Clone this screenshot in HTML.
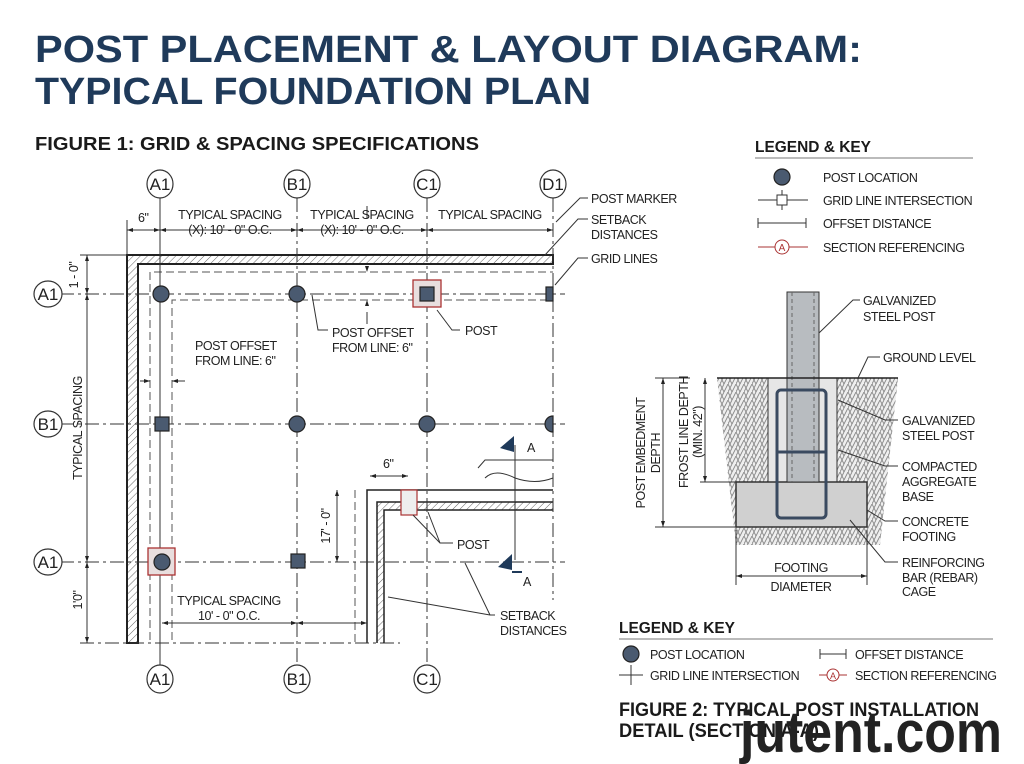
<!DOCTYPE html>
<html><head><meta charset="utf-8"><style>
html,body{margin:0;padding:0;background:#fff;}
svg{display:block}
.t{font-family:"Liberation Sans",sans-serif;font-size:12.5px;letter-spacing:-0.45px;fill:#222}
.b{font-family:"Liberation Sans",sans-serif;font-weight:bold;fill:#1a1a1a}
.gl{stroke:#333;stroke-width:1;fill:none;stroke-dasharray:14 4 3 4}
.ds{stroke:#555;stroke-width:1;fill:none;stroke-dasharray:8 4}
.ln{stroke:#333;stroke-width:1;fill:none}
.bub{fill:#fff;stroke:#333;stroke-width:1.2}
.bt{font-family:"Liberation Sans",sans-serif;font-size:17px;fill:#222;text-anchor:middle}
.post{fill:#4a5a70;stroke:#222;stroke-width:1.2}
</style></head><body>
<svg width="1024" height="764" viewBox="0 0 1024 764" xmlns="http://www.w3.org/2000/svg">
<defs>
<pattern id="h" width="5" height="5" patternUnits="userSpaceOnUse" patternTransform="rotate(45)"><rect width="5" height="5" fill="#fff"/><line x1="0" y1="0" x2="0" y2="5" stroke="#666" stroke-width="1"/></pattern>
<pattern id="soil" width="8" height="8" patternUnits="userSpaceOnUse"><rect width="8" height="8" fill="#eee"/><path d="M0 8 L4 0 M4 8 L8 0 M0 0 L4 8" stroke="#888" stroke-width="0.9"/></pattern>
</defs>

<text class="b" x="35" y="62" font-size="38" style="fill:#1f3a5a" textLength="827" lengthAdjust="spacingAndGlyphs">POST PLACEMENT &amp; LAYOUT DIAGRAM:</text>
<text class="b" x="35" y="104" font-size="38" style="fill:#1f3a5a" textLength="556" lengthAdjust="spacingAndGlyphs">TYPICAL FOUNDATION PLAN</text>
<text class="b" x="35" y="150" font-size="18" textLength="444" lengthAdjust="spacingAndGlyphs">FIGURE 1: GRID &amp; SPACING SPECIFICATIONS</text>

<!-- walls -->
<path d="M127 643 V255 H553 V264 H138 V643 Z" fill="url(#h)" stroke="#222" stroke-width="2"/>
<rect x="377" y="502" width="176" height="8" fill="url(#h)"/><rect x="377" y="502" width="7" height="141" fill="url(#h)"/>
<path d="M377 643 V502 H553 M384 643 V510 H553 M367 643 V490 H553" fill="none" stroke="#222" stroke-width="1.5"/>
<line x1="80" y1="643" x2="400" y2="643" class="gl"/>

<path d="M150 640 V272 H553" class="ds"/><path d="M172 640 V300 H553" class="ds"/>
<line x1="355" y1="490" x2="355" y2="643" class="ds"/>
<line x1="160" y1="198" x2="160" y2="666" class="ln"/>
<line x1="297" y1="198" x2="297" y2="666" class="gl"/>
<line x1="427" y1="198" x2="427" y2="666" class="gl"/>
<line x1="553" y1="198" x2="553" y2="600" class="gl"/>
<line x1="60" y1="294" x2="565" y2="294" class="gl"/>
<line x1="60" y1="424" x2="565" y2="424" class="gl"/>
<line x1="60" y1="562" x2="565" y2="562" class="gl"/>

<g>
<ellipse class="bub" cx="160" cy="184" rx="13" ry="14"/><text class="bt" x="160" y="190">A1</text>
<ellipse class="bub" cx="297" cy="184" rx="13" ry="14"/><text class="bt" x="297" y="190">B1</text>
<ellipse class="bub" cx="427" cy="184" rx="13" ry="14"/><text class="bt" x="427" y="190">C1</text>
<ellipse class="bub" cx="553" cy="184" rx="13" ry="14"/><text class="bt" x="553" y="190">D1</text>
<ellipse class="bub" cx="48" cy="294" rx="14" ry="13"/><text class="bt" x="48" y="300">A1</text>
<ellipse class="bub" cx="48" cy="424" rx="14" ry="13"/><text class="bt" x="48" y="430">B1</text>
<ellipse class="bub" cx="48" cy="562" rx="14" ry="13"/><text class="bt" x="48" y="568">A1</text>
<ellipse class="bub" cx="160" cy="679" rx="13" ry="14"/><text class="bt" x="160" y="685">A1</text>
<ellipse class="bub" cx="297" cy="679" rx="13" ry="14"/><text class="bt" x="297" y="685">B1</text>
<ellipse class="bub" cx="427" cy="679" rx="13" ry="14"/><text class="bt" x="427" y="685">C1</text>
</g>

<circle class="post" cx="161" cy="294" r="8"/>
<circle class="post" cx="297" cy="294" r="8"/>
<rect x="413" y="280" width="28" height="27" fill="#e8dede" stroke="#a33" stroke-width="1.3"/>
<rect class="post" x="420" y="287" width="14" height="14"/>
<rect class="post" x="546" y="287" width="7" height="14"/>
<rect class="post" x="155" y="417" width="14" height="14"/>
<circle class="post" cx="297" cy="424" r="8"/>
<circle class="post" cx="427" cy="424" r="8"/>
<path d="M553 416 A8 8 0 0 0 553 432 Z" class="post"/>
<rect x="148" y="548" width="27" height="27" fill="#e8dede" stroke="#a33" stroke-width="1.3"/>
<circle class="post" cx="162" cy="562" r="8"/>
<rect class="post" x="291" y="554" width="14" height="14"/>
<rect x="401" y="490" width="16" height="25" fill="#eee" stroke="#a33" stroke-width="1.2"/>

<g class="ln" stroke="#222">
<line x1="127" y1="220" x2="127" y2="255"/>
<line x1="127" y1="230" x2="553" y2="230"/>
<line x1="80" y1="255" x2="127" y2="255"/>
<line x1="87" y1="255" x2="87" y2="643"/>
<line x1="370" y1="476" x2="408" y2="476"/>
<line x1="337" y1="490" x2="337" y2="562"/>
<line x1="162" y1="623" x2="367" y2="623"/>
<line x1="367" y1="206" x2="367" y2="218"/><line x1="367" y1="312" x2="367" y2="324"/>
<line x1="140" y1="381" x2="150" y2="381"/><line x1="172" y1="381" x2="185" y2="381"/>
</g>
<g fill="#222">
<path d="M127 230 l6 -2 v4z M160 230 l-6 -2 v4z M160 230 l6 -2 v4z M297 230 l-6 -2 v4z M297 230 l6 -2 v4z M427 230 l-6 -2 v4z M427 230 l6 -2 v4z M553 230 l-6 -2 v4z"/>
<path d="M87 255 l-2 6 h4z M87 294 l-2 -6 h4z M87 294 l-2 6 h4z M87 562 l-2 -6 h4z M87 562 l-2 6 h4z M87 643 l-2 -6 h4z"/>
<path d="M337 490 l-2 6 h4z M337 562 l-2 -6 h4z M370 476 l6 -2 v4z M408 476 l-6 -2 v4z"/>
<path d="M162 623 l6 -2 v4z M297 623 l-6 -2 v4z M297 623 l6 -2 v4z M367 623 l-6 -2 v4z"/>
<path d="M367 272 l-2 -6 h4z M367 300 l-2 6 h4z M150 381 l-6 -2 v4z M172 381 l6 -2 v4z"/>
</g>
<text class="t" x="138" y="222">6"</text>
<text class="t" x="230" y="219" text-anchor="middle">TYPICAL SPACING</text>
<text class="t" x="230" y="234" text-anchor="middle">(X): 10' - 0" O.C.</text>
<text class="t" x="362" y="219" text-anchor="middle">TYPICAL SPACING</text>
<text class="t" x="362" y="234" text-anchor="middle">(X): 10' - 0" O.C.</text>
<text class="t" x="490" y="219" text-anchor="middle">TYPICAL SPACING</text>
<text class="t" transform="translate(78,275) rotate(-90)" text-anchor="middle">1 - 0"</text>
<text class="t" transform="translate(82,428) rotate(-90)" text-anchor="middle">TYPICAL SPACING</text>
<text class="t" transform="translate(82,600) rotate(-90)" text-anchor="middle">1'0"</text>
<text class="t" transform="translate(330,526) rotate(-90)" text-anchor="middle">17' - 0"</text>
<text class="t" x="383" y="468">6"</text>
<text class="t" x="195" y="350">POST OFFSET</text><text class="t" x="195" y="365">FROM LINE: 6"</text>
<text class="t" x="332" y="337">POST OFFSET</text><text class="t" x="332" y="352">FROM LINE: 6"</text>
<text class="t" x="465" y="335">POST</text>
<text class="t" x="457" y="549">POST</text>
<text class="t" x="229" y="605" text-anchor="middle">TYPICAL SPACING</text>
<text class="t" x="229" y="620" text-anchor="middle">10' - 0" O.C.</text>
<text class="t" x="500" y="620">SETBACK</text><text class="t" x="500" y="635">DISTANCES</text>
<text class="t" x="591" y="203">POST MARKER</text>
<text class="t" x="591" y="224">SETBACK</text><text class="t" x="591" y="239">DISTANCES</text>
<text class="t" x="591" y="263">GRID LINES</text>
<g class="ln">
<path d="M588 198 H580 L556 222"/><path d="M588 219 H578 L545 255"/><path d="M588 258 H578 L555 285"/>
<path d="M312 295 L318 330 H328"/><path d="M460 330 H452 L437 310"/>
<path d="M453 543 H440 L413 515 M440 543 L428 512"/>
<path d="M495 615 H490 L465 563 M490 615 L388 597"/>
<path d="M478 468 L485 460 H553 M485 478 Q495 468 515 478 Q535 485 553 478"/>
<line x1="515" y1="445" x2="515" y2="560"/>
</g>
<path d="M500 448 L514 436 V452Z M498 567 L512 554 V570Z" fill="#1f3a5a"/>
<text class="t" x="527" y="452" font-size="17">A</text>
<text class="t" x="523" y="586" font-size="17">A</text>
<line x1="512" y1="572" x2="522" y2="572" stroke="#1f3a5a" stroke-width="2"/>

<text class="b" x="755" y="152" font-size="16" textLength="116" lengthAdjust="spacingAndGlyphs">LEGEND &amp; KEY</text>
<line x1="755" y1="158" x2="973" y2="158" stroke="#777"/>
<circle class="post" cx="782" cy="177" r="8"/>
<line x1="758" y1="200" x2="808" y2="200" class="ln"/><line x1="782" y1="190" x2="782" y2="210" class="ln"/><rect x="777" y="195" width="10" height="10" fill="#fff" stroke="#333"/>
<line x1="758" y1="223" x2="806" y2="223" class="ln"/><line x1="758" y1="218" x2="758" y2="228" class="ln"/><line x1="806" y1="218" x2="806" y2="228" class="ln"/>
<line x1="758" y1="247" x2="808" y2="247" stroke="#a33"/><circle cx="782" cy="247" r="7" fill="#fff" stroke="#a33"/><text x="782" y="251" font-size="10" text-anchor="middle" fill="#a33" font-family="Liberation Sans">A</text>
<text class="t" x="823" y="182" font-size="14">POST LOCATION</text>
<text class="t" x="823" y="205" font-size="14">GRID LINE INTERSECTION</text>
<text class="t" x="823" y="228" font-size="14">OFFSET DISTANCE</text>
<text class="t" x="823" y="252" font-size="14">SECTION REFERENCING</text>

<path d="M717 378 H898 L880 545 H736 Z" fill="url(#soil)"/>
<rect x="768" y="378" width="69" height="104" fill="#e6e6e6" stroke="#333"/>
<rect x="736" y="482" width="131" height="45" fill="#d0d0d0" stroke="#333" stroke-width="1.5"/>
<rect x="787" y="292" width="32" height="190" fill="#b8bcc0" stroke="#333"/>
<line x1="792" y1="292" x2="792" y2="482" stroke="#666" stroke-dasharray="4 3"/><line x1="814" y1="292" x2="814" y2="482" stroke="#666" stroke-dasharray="4 3"/>
<line x1="717" y1="378" x2="898" y2="378" stroke="#222" stroke-width="1.5"/>
<rect x="777" y="390" width="49" height="128" rx="4" fill="none" stroke="#3a4a60" stroke-width="3"/>
<line x1="777" y1="452" x2="826" y2="452" stroke="#3a4a60" stroke-width="3"/>
<g class="ln" stroke="#222">
<line x1="663" y1="378" x2="663" y2="527"/><line x1="655" y1="378" x2="690" y2="378"/><line x1="655" y1="527" x2="736" y2="527"/>
<line x1="705" y1="378" x2="705" y2="482"/><line x1="700" y1="482" x2="736" y2="482"/>
<line x1="736" y1="530" x2="736" y2="585"/><line x1="867" y1="530" x2="867" y2="585"/><line x1="736" y1="576" x2="867" y2="576"/>
<path d="M860 300 H853 L819 333"/><path d="M880 357 H868 L858 378"/>
<path d="M898 420 H885 L838 400"/><path d="M898 466 H885 L838 450"/><path d="M898 521 H885 L867 510"/><path d="M898 562 H885 L850 520"/>
</g>
<path d="M663 378 l-2 6 h4z M663 527 l-2 -6 h4z M705 378 l-2 6 h4z M705 482 l-2 -6 h4z M736 576 l6 -2 v4z M867 576 l-6 -2 v4z" fill="#222"/>
<text class="t" transform="translate(645,453) rotate(-90)" text-anchor="middle">POST EMBEDMENT</text>
<text class="t" transform="translate(660,453) rotate(-90)" text-anchor="middle">DEPTH</text>
<text class="t" transform="translate(688,432) rotate(-90)" text-anchor="middle">FROST LINE DEPTH</text>
<text class="t" transform="translate(702,432) rotate(-90)" text-anchor="middle">(MIN. 42")</text>
<text class="t" x="801" y="572" text-anchor="middle">FOOTING</text><text class="t" x="801" y="591" text-anchor="middle">DIAMETER</text>
<text class="t" x="863" y="305">GALVANIZED</text><text class="t" x="863" y="321">STEEL POST</text>
<text class="t" x="883" y="362">GROUND LEVEL</text>
<text class="t" x="902" y="425">GALVANIZED</text><text class="t" x="902" y="440">STEEL POST</text>
<text class="t" x="902" y="471">COMPACTED</text><text class="t" x="902" y="486">AGGREGATE</text><text class="t" x="902" y="501">BASE</text>
<text class="t" x="902" y="526">CONCRETE</text><text class="t" x="902" y="541">FOOTING</text>
<text class="t" x="902" y="567">REINFORCING</text><text class="t" x="902" y="582">BAR (REBAR)</text><text class="t" x="902" y="596">CAGE</text>

<text class="b" x="619" y="633" font-size="16" textLength="116" lengthAdjust="spacingAndGlyphs">LEGEND &amp; KEY</text>
<line x1="619" y1="639" x2="993" y2="639" stroke="#777"/>
<circle class="post" cx="631" cy="654" r="8"/>
<line x1="619" y1="675" x2="643" y2="675" class="ln"/><line x1="631" y1="665" x2="631" y2="685" class="ln"/>
<text class="t" x="650" y="659" font-size="14">POST LOCATION</text>
<text class="t" x="650" y="680" font-size="14">GRID LINE INTERSECTION</text>
<line x1="820" y1="654" x2="846" y2="654" class="ln"/><line x1="820" y1="649" x2="820" y2="659" class="ln"/><line x1="846" y1="649" x2="846" y2="659" class="ln"/>
<line x1="819" y1="675" x2="847" y2="675" stroke="#a33"/><circle cx="833" cy="675" r="6" fill="#fff" stroke="#a33"/><text x="833" y="679" font-size="9" text-anchor="middle" fill="#a33" font-family="Liberation Sans">A</text>
<text class="t" x="855" y="659" font-size="14">OFFSET DISTANCE</text>
<text class="t" x="855" y="680" font-size="14">SECTION REFERENCING</text>
<text class="b" x="619" y="716" font-size="19" textLength="360" lengthAdjust="spacingAndGlyphs">FIGURE 2: TYPICAL POST INSTALLATION</text>
<text class="b" x="619" y="737" font-size="19" textLength="200" lengthAdjust="spacingAndGlyphs">DETAIL (SECTION A-A)</text>
<text x="740" y="752" font-family="Liberation Sans" font-weight="bold" font-size="58" fill="#222" textLength="262" lengthAdjust="spacingAndGlyphs">jutent.com</text>
</svg>
</body></html>
